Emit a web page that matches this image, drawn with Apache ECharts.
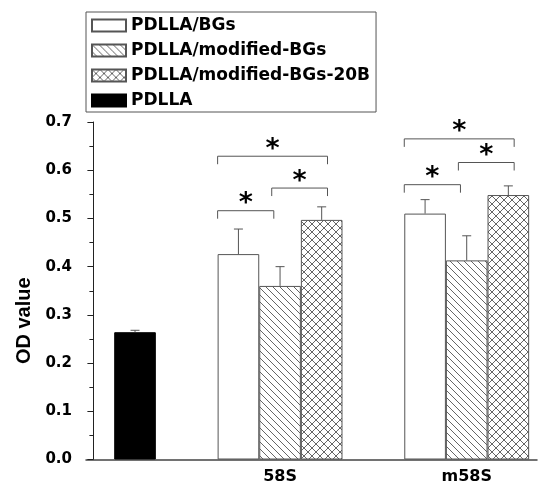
<!DOCTYPE html>
<html>
<head>
<meta charset="utf-8">
<script src="https://cdn.jsdelivr.net/npm/echarts@6/dist/echarts.min.js"></script>
<style>
html, body { margin: 0; padding: 0; background: #fff; }
#chart { width: 538px; height: 486px; }
</style>
</head>
<body>
<div id="chart"></div>
<script>
// 数据
var groups = ['', '58S', 'm58S'];
var seriesNames = ['PDLLA/BGs', 'PDLLA/modified-BGs', 'PDLLA/modified-BGs-20B', 'PDLLA'];
var bgsMean = [null, 0.426, 0.510];
var bgsErr = [null, 0.052, 0.029];
var modMean = [null, 0.360, 0.413];
var modErr = [null, 0.040, 0.051];
var mod20Mean = [null, 0.497, 0.5485];
var mod20Err = [null, 0.027, 0.019];
var pdllaMean = [0.264, null, null];
var pdllaErr = [0.004, null, null];
var yTicks = [0, 0.1, 0.2, 0.3, 0.4, 0.5, 0.6, 0.7];
// 显著性标记: [组, 起始柱, 结束柱, 高度]
var sigBrackets = [
	[1, 0, 1, 0.516],
	[1, 1, 2, 0.563],
	[1, 0, 2, 0.629],
	[2, 0, 1, 0.570],
	[2, 1, 2, 0.616],
	[2, 0, 2, 0.665]
];

var BAR_FRAC = 0.223;
var BOLD = 'DejaVu Sans';

function makePattern(type, s) {
	var c = document.createElement('canvas');
	c.width = s;
	c.height = s;
	var ctx = c.getContext('2d');
	ctx.fillStyle = '#fff';
	ctx.fillRect(0, 0, s, s);
	ctx.strokeStyle = '#555';
	ctx.lineWidth = 0.9;
	ctx.beginPath();
	for (var o = -s; o <= s; o += s) {
		if (type == 'back' || type == 'cross') {
			ctx.moveTo(o, 0);
			ctx.lineTo(o + s, s);
		}
		if (type == 'cross') {
			ctx.moveTo(o, s);
			ctx.lineTo(o + s, 0);
		}
	}
	ctx.stroke();
	return { image: c, repeat: 'repeat' };
}

var fills = ['#fff', makePattern('back', 7), makePattern('cross', 8), '#000'];
var means = [bgsMean, modMean, mod20Mean, pdllaMean];
var errs = [bgsErr, modErr, mod20Err, pdllaErr];
var slots = [0, 1, 2, 2];
var stacks = ['a', 'b', 'c', 'c'];

function toData(arr) {
	var out = [];
	for (var i = 0; i < arr.length; i++) {
		out.push([i, arr[i] == null ? '-' : arr[i]]);
	}
	return out;
}

var series = [];
for (var k = 0; k < seriesNames.length; k++) {
	series.push({
		name: seriesNames[k],
		type: 'bar',
		stack: stacks[k],
		barWidth: (BAR_FRAC * 100) + '%',
		barGap: 0,
		itemStyle: {
			color: fills[k],
			borderColor: k == 3 ? '#000' : '#555',
			borderWidth: 1
		},
		emphasis: { disabled: true },
		data: toData(means[k])
	});
}

series.push({
	name: 'annot',
	type: 'custom',
	silent: true,
	z: 10,
	data: groups.map(function(g, i) { return [i, 0]; }),
	renderItem: function(params, api) {
		var g = api.value(0);
		var base = api.coord([g, 0]);
		var w = api.size([1, 0])[0] * BAR_FRAC;
		var cx = function(slot) { return base[0] + (slot - 1) * w; };
		var children = [];
		for (var k = 0; k < means.length; k++) {
			var m = means[k][g];
			if (m == null) continue;
			var x = cx(slots[k]);
			var top = api.coord([g, m])[1];
			var end = api.coord([g, m + errs[k][g]])[1];
			children.push({
				type: 'polyline',
				shape: { points: [[x, top], [x, end]] },
				style: { stroke: '#555', lineWidth: 1, fill: null }
			});
			children.push({
				type: 'line',
				shape: { x1: x - 4.5, y1: end, x2: x + 4.5, y2: end },
				style: { stroke: '#555', lineWidth: 1 }
			});
		}
		sigBrackets.forEach(function(b) {
			if (b[0] !== g) return;
			var y = api.coord([g, b[3]])[1];
			var x1 = cx(b[1]) - (b[1] === 0 ? 0.5 : 0.2) * w;
			var x2 = cx(b[2]) + (b[2] === 2 ? 0.14 : -0.15) * w;
			children.push({
				type: 'polyline',
				shape: { points: [[x1, y + 8], [x1, y], [x2, y], [x2, y + 8]] },
				style: { stroke: '#555', lineWidth: 1, fill: null }
			});
			children.push({
				type: 'text',
				x: (x1 + x2) / 2,
				y: y + 7,
				style: {
					text: '*',
					font: 'bold 27px "DejaVu Sans"',
					fill: '#000',
					align: 'center',
					verticalAlign: 'bottom'
				}
			});
		});
		if (groups[g]) {
			children.push({
				type: 'text',
				x: base[0],
				y: base[1] + 17,
				style: {
					text: groups[g],
					font: 'bold 16px "DejaVu Sans"',
					fill: '#000',
					align: 'center',
					verticalAlign: 'middle'
				}
			});
		}
		return { type: 'group', children: children };
	}
});

var myChart = echarts.init(document.getElementById('chart'));
var option = {
	animation: false,
	backgroundColor: '#fff',
	legend: {
		orient: 'vertical',
		left: 86,
		top: 12,
		padding: [5, 6, 3, 5],
		itemGap: 8,
		itemWidth: 34,
		itemHeight: 12,
		icon: 'rect',
		borderColor: '#555',
		borderWidth: 1,
		selectedMode: false,
		data: seriesNames,
		textStyle: {
			fontFamily: BOLD,
			fontWeight: 'bold',
			fontSize: 17,
			color: '#000'
		}
	},
	grid: {
		left: 86,
		right: 1,
		top: 122,
		bottom: 26.5
	},
	xAxis: {
		type: 'value',
		min: -0.0396,
		max: 2.3766,
		axisLine: { show: true, onZero: false, lineStyle: { color: '#444', width: 1.5 } },
		axisTick: { show: false },
		axisLabel: { show: false },
		splitLine: { show: false }
	},
	yAxis: {
		type: 'value',
		min: yTicks[0],
		max: yTicks[yTicks.length - 1],
		interval: 0.1,
		name: 'OD value',
		nameLocation: 'middle',
		nameGap: 51,
		nameTextStyle: {
			fontFamily: 'Liberation Sans',
			fontWeight: 'bold',
			fontSize: 20,
			color: '#000',
			padding: [0, 60, 0, 0]
		},
		axisLine: { show: true, lineStyle: { color: '#222', width: 1 } },
		axisTick: { show: true, inside: false, length: 6, lineStyle: { color: '#222' } },
		minorTick: { show: true, splitNumber: 2, length: 4, lineStyle: { color: '#222' } },
		axisLabel: {
			margin: 14,
			fontFamily: BOLD,
			fontWeight: 'bold',
			fontSize: 15,
			color: '#000',
			formatter: function(v) { return v.toFixed(1); }
		},
		splitLine: { show: false }
	},
	series: series
};
myChart.setOption(option);
window.onresize = function() {
	myChart.resize();
};
</script>
</body>
</html>
